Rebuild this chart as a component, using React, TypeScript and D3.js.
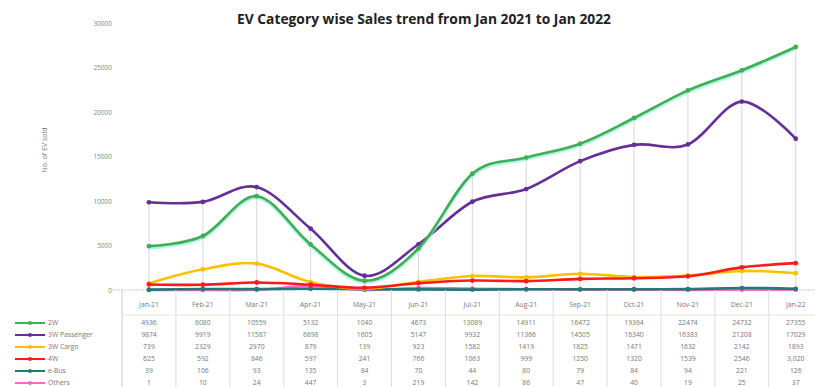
import React from "react";
import * as d3 from "d3";

const categories = ["Jan-21","Feb-21","Mar-21","Apr-21","May-21","Jun-21","Jul-21","Aug-21","Sep-21","Oct-21","Nov-21","Dec-21","Jan-22"];
const seriesNames = ["2W","3W Passenger","3W Cargo","4W","e-Bus","Others"];
const v2W = [4936,6080,10559,5132,1040,4673,13089,14911,16472,19364,22474,24732,27355];
const v3WP = [9874,9919,11587,6898,1605,5147,9932,11366,14505,16340,16383,21208,17029];
const v3WC = [739,2329,2970,879,139,923,1582,1419,1825,1471,1632,2142,1893];
const v4W = [625,592,846,597,241,766,1063,999,1250,1320,1539,2546,3020];
const vBus = [39,106,93,135,84,70,44,80,79,84,94,221,126];
const vOthers = [1,10,24,447,3,219,142,86,47,40,19,25,37];
const yTicks = [0,5000,10000,15000,20000,25000,30000];
const colors = ["#3fae55","#642f96","#ffc000","#ff1a1a","#1f7a78","#ff66cc"];

const seriesValues = [v2W, v3WP, v3WC, v4W, vBus, vOthers];
const drawOrder = [5, 4, 2, 3, 1, 0];

export default function App() {
  const W = 815, H = 387;
  const left = 122, step = 53.9;
  const right = left + step * categories.length;
  const x = d3.scaleBand<string>().domain(categories).range([left, right]);
  const y = d3.scaleLinear().domain([0, 30000]).range([290, 23.5]);
  const cx = (c: string) => (x(c) as number) + x.bandwidth() / 2;
  const line = d3.line<number>()
    .x((_, i) => cx(categories[i]))
    .y((d) => y(d))
    .curve(d3.curveCardinal.tension(0));
  const font = "'Open Sans', 'DejaVu Sans', sans-serif";
  const headerY = 304;
  const rowY = (i: number) => 323 + i * 12;

  return (
    <svg width={W} height={H} style={{ position: "absolute", left: 0, top: 0, background: "#fff" }} fontFamily={font}>
      <text x={424} y={24} textAnchor="middle" fontSize={13.8} fontWeight={700} fill="#222">
        EV Category wise Sales trend from Jan 2021 to Jan 2022
      </text>
      <text transform={`translate(47,150) rotate(-90)`} textAnchor="middle" fontSize={7} fill="#777">No. of EV sold</text>
      {yTicks.map((t) => (
        <text key={t} x={112} y={y(t) + 2.5} textAnchor="end" fontSize={6.5} fill="#888">{t}</text>
      ))}
      {categories.map((c, i) => {
        const mx = d3.max(seriesValues, (s) => s[i]) as number;
        return <line key={c} x1={cx(c)} x2={cx(c)} y1={y(mx)} y2={290} stroke="#ddd3e3" strokeWidth={1} />;
      })}
      <line x1={112} x2={right} y1={290} y2={290} stroke="#bbb" strokeWidth={0.8} strokeDasharray="2,1" />
      {drawOrder.map((si) => (
        <g key={si}>
          {si === 0 && (
            <path d={line(seriesValues[si]) || ""} fill="none" stroke="#8ff0d8" strokeWidth={3.5} opacity={0.7} transform="translate(0,1.5)" />
          )}
          <path d={line(seriesValues[si]) || ""} fill="none" stroke={colors[si]} strokeWidth={2.6} />
          {seriesValues[si].map((v, i) => (
            <circle key={i} cx={cx(categories[i])} cy={y(v)} r={2.4} fill={colors[si]} />
          ))}
        </g>
      ))}
      <line x1={left} x2={left} y1={290} y2={H} stroke="#ccc" strokeWidth={1} />
      {categories.map((c, i) => (
        <line key={"sep" + c} x1={left + step * (i + 1)} x2={left + step * (i + 1)} y1={290} y2={H} stroke="#ddd" strokeWidth={1} />
      ))}
      <line x1={left} x2={right} y1={315} y2={315} stroke="#dfe8d8" strokeWidth={1} />
      {categories.map((c) => (
        <text key={"h" + c} x={cx(c)} y={headerY + 2.5} textAnchor="middle" fontSize={6.8} fill="#777">{c}</text>
      ))}
      {seriesNames.map((n, si) => (
        <g key={n}>
          <line x1={15} x2={45} y1={rowY(si)} y2={rowY(si)} stroke={colors[si]} strokeWidth={2} />
          <circle cx={30} cy={rowY(si)} r={2} fill={colors[si]} />
          <text x={48} y={rowY(si) + 2.3} fontSize={6.8} fill="#777">{n}</text>
          {seriesValues[si].map((v, i) => (
            <text key={i} x={cx(categories[i])} y={rowY(si) + 2.3} textAnchor="middle" fontSize={6.8} fill="#777">
              {si === 3 && i === 12 ? "3,020" : v}
            </text>
          ))}
        </g>
      ))}
    </svg>
  );
}
